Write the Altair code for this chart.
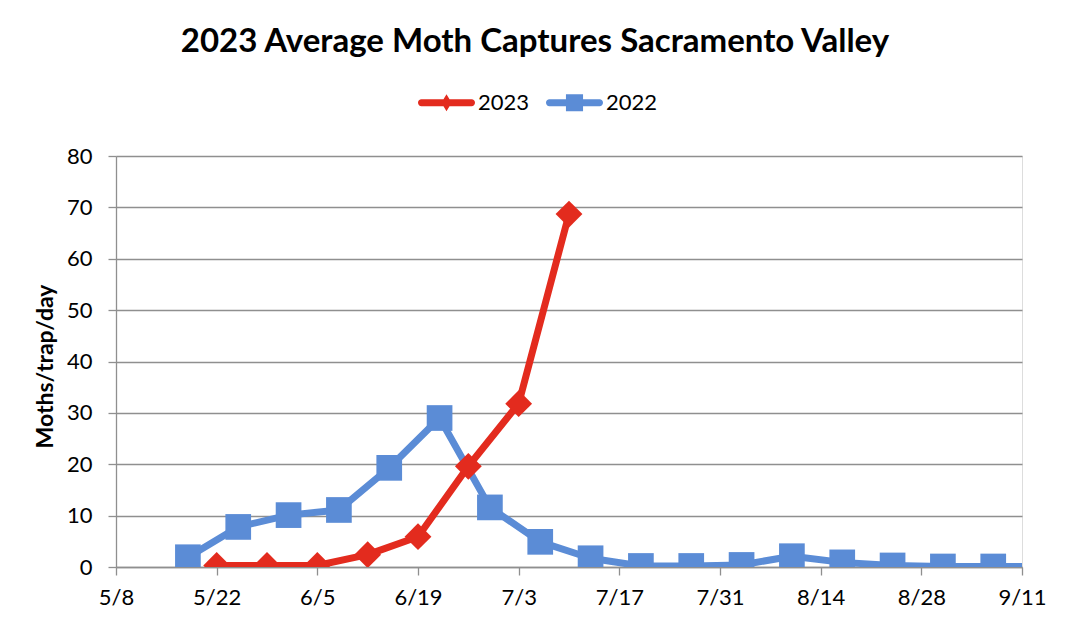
import altair as alt
import pandas as pd

# ---- data ----
series_names = ["2023", "2022"]
series_colors = ["#E32B1E", "#5B8CD6"]

dates_2023 = ["2023-05-22", "2023-05-29", "2023-06-05", "2023-06-12",
              "2023-06-19", "2023-06-26", "2023-07-03", "2023-07-10"]
vals_2023 = [0.3, 0.3, 0.3, 2.4, 5.9, 19.6, 31.8, 68.7]

dates_2022 = ["2023-05-18", "2023-05-25", "2023-06-01", "2023-06-08",
              "2023-06-15", "2023-06-22", "2023-06-29", "2023-07-06",
              "2023-07-13", "2023-07-20", "2023-07-27", "2023-08-03",
              "2023-08-10", "2023-08-17", "2023-08-24", "2023-08-31",
              "2023-09-07", "2023-09-14"]
vals_2022 = [1.9, 7.8, 10.1, 11.1, 19.3, 29.0, 11.6, 4.9,
             1.7, 0.2, 0.2, 0.4, 2.1, 0.9, 0.3, 0.1, 0.1, 0.1]

tick_dates = ["2023-05-08", "2023-05-22", "2023-06-05", "2023-06-19",
              "2023-07-03", "2023-07-17", "2023-07-31", "2023-08-14",
              "2023-08-28", "2023-09-11"]
y_ticks = [0, 10, 20, 30, 40, 50, 60, 70, 80]

# ---- tables ----
df23 = pd.DataFrame({"date": dates_2023, "value": vals_2023, "series": "2023"})
df22 = pd.DataFrame({"date": dates_2022, "value": vals_2022, "series": "2022"})
df = pd.concat([df23, df22], ignore_index=True)
df["hidden"] = None

to_ms = lambda s: int(pd.Timestamp(s, tz="UTC").timestamp() * 1000)
tick_ms = [to_ms(d) for d in tick_dates]

FONT = "Lato"
GRID = "#8F8F8F"
LBL = 22

xenc = alt.X(
    "date:T",
    scale=alt.Scale(type="utc", domain=[tick_ms[0], tick_ms[-1]]),
    axis=alt.Axis(values=tick_ms,
                  labelExpr="utcFormat(datum.value, '%-m/%-d')",
                  title=None, grid=False, labelFontSize=LBL, labelFont=FONT,
                  labelColor="#000", labelPadding=12, tickSize=8,
                  tickColor=GRID, domainColor=GRID, tickWidth=1.3,
                  domainWidth=1.3, labelFlush=False, labelOverlap=False),
)
yenc = alt.Y(
    "value:Q",
    scale=alt.Scale(domain=[0, 80], nice=False),
    axis=alt.Axis(values=y_ticks, title="Moths/trap/day", titleFontSize=23,
                  titleFont=FONT, titleFontWeight="bold", titleColor="#000",
                  titleX=-71, titleY=210, titleAngle=-90, titleAlign="center",
                  titleBaseline="middle",
                  labelFontSize=LBL, labelFont=FONT, labelColor="#000",
                  labelPadding=16, tickSize=8, tickColor=GRID,
                  domainColor=GRID, gridColor=GRID, gridWidth=1.3,
                  tickWidth=1.3, domainWidth=1.3),
)

color_scale = alt.Scale(domain=series_names, range=series_colors)
cenc = alt.Color("series:N", scale=color_scale)

lines = alt.Chart(df).mark_line(strokeWidth=7, strokeJoin="round",
                                strokeCap="round", clip=True).encode(
    x=xenc, y=yenc, color=cenc, detail="series:N",
)

pts23 = alt.Chart(df23).mark_point(filled=True, shape="diamond", size=720,
                                   opacity=1, clip=True).encode(
    x=xenc, y=yenc, color=cenc,
)
pts22 = alt.Chart(df22).mark_point(filled=True, shape="square", size=660,
                                   opacity=1, clip=True).encode(
    x=xenc, y=yenc, color=cenc,
)

leg_diamond = ("M-0.88,-0.12 L0.88,-0.12 A0.12,0.12 0 0 1 0.88,0.12 "
               "L-0.88,0.12 A0.12,0.12 0 0 1 -0.88,-0.12 Z "
               "M0,-0.3 L0.18,0 L0,0.3 L-0.18,0 Z")
leg_square = ("M-0.88,-0.12 L0.88,-0.12 A0.12,0.12 0 0 1 0.88,0.12 "
              "L-0.88,0.12 A0.12,0.12 0 0 1 -0.88,-0.12 Z "
              "M-0.3,-0.3 L0.3,-0.3 L0.3,0.3 L-0.3,0.3 Z")

legend = alt.Legend(title=None, orient="none", direction="horizontal",
                    legendX=302, legendY=-82, symbolSize=3249,
                    symbolStrokeWidth=0, labelFontSize=LBL, labelFont=FONT,
                    labelColor="#000", labelOffset=3, columnPadding=16,
                    padding=0, symbolOpacity=1)

legend_layer = alt.Chart(df).mark_point(filled=True).encode(
    x=xenc,
    y=alt.Y("hidden:Q"),
    color=alt.Color("series:N", scale=color_scale, legend=legend),
    shape=alt.Shape("series:N",
                    scale=alt.Scale(domain=series_names,
                                    range=[leg_diamond, leg_square]),
                    legend=legend),
)

chart = alt.layer(legend_layer, lines, pts23, pts22).properties(
    width=906, height=411,
    title=alt.TitleParams("2023 Average Moth Captures Sacramento Valley",
                          fontSize=33, font=FONT, fontWeight="bold",
                          color="#000", anchor="middle", dx=-34, offset=15),
    autosize=alt.AutoSizeParams(type="none"),
    padding={"left": 108, "top": 148, "right": 43, "bottom": 45},
).configure_view(stroke=None).configure(background="white")

chart.save("out.html", embed_options={"renderer": "svg", "actions": False})
